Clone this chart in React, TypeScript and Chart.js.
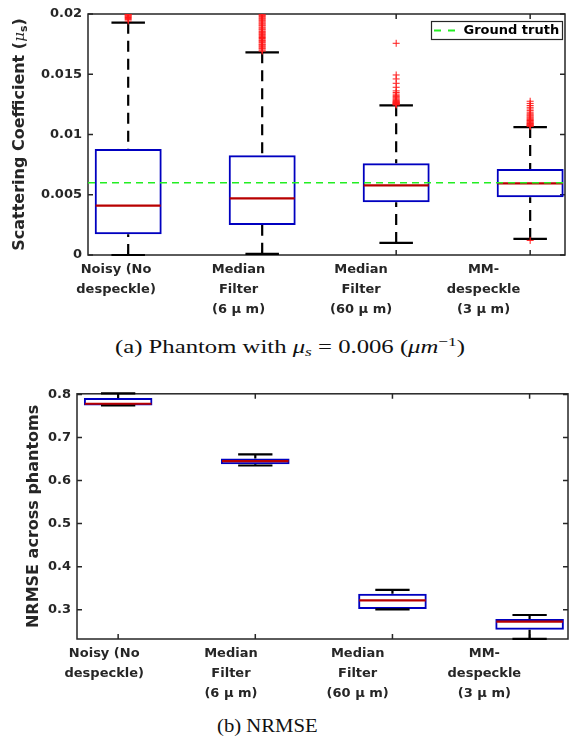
import React, { useEffect, useRef } from "react";
import { Chart, registerables } from "chart.js";

Chart.register(...registerables);

// ---------- shared ----------
const FONT = "'DejaVu Sans', sans-serif";
const AXIS_COLOR = "#262626";
const BOX_BLUE = "#0000c0";
const MEDIAN_RED = "#b80000";
const OUTLIER_RED = "#ff1a1a";
const GT_GREEN = "#22ee22";

const categories = [1, 2, 3, 4];
const categoryLabels = [
  ["Noisy (No", "despeckle)"],
  ["Median", "Filter", "(6 μ m)"],
  ["Median", "Filter", "(60 μ m)"],
  ["MM-", "despeckle", "(3 μ m)"],
];

// ---------- (a) scattering coefficient ----------
const aYTicks = [0, 0.005, 0.01, 0.015, 0.02];
const aYTickLabels = ["0", "0.005", "0.01", "0.015", "0.02"];
const aQ1 = [0.00172, 0.00249, 0.00437, 0.00479];
const aMedian = [0.00409, 0.0047, 0.00578, 0.00595];
const aQ3 = [0.0088, 0.00827, 0.00761, 0.00714];
const aWhiskerLow = [0, 0.0001, 0.001, 0.00133];
const aWhiskerHigh = [0.01928, 0.01682, 0.01242, 0.01062];
const aOutliersNoisy = [0.01942, 0.01955, 0.01963, 0.01971, 0.01978, 0.01985, 0.01991, 0.01996, 0.02];
const aOutliersMedian6 = [
  0.01692, 0.01701, 0.01712, 0.01719, 0.01728, 0.01736, 0.01745, 0.01751, 0.01762, 0.0177,
  0.01779, 0.01786, 0.01797, 0.01805, 0.01812, 0.01823, 0.01831, 0.0184, 0.01848, 0.01856,
  0.01867, 0.01874, 0.01883, 0.01891, 0.01902, 0.01909, 0.01918, 0.01926, 0.01935, 0.01944,
  0.01952, 0.01961, 0.01969, 0.01978, 0.01986, 0.01993, 0.02,
];
const aOutliersMedian60 = [
  0.01245, 0.01249, 0.01252, 0.01256, 0.01259, 0.01263, 0.01267, 0.0127, 0.01275, 0.01281,
  0.01288, 0.01296, 0.01305, 0.01314, 0.01322, 0.01335, 0.01348, 0.01362, 0.01392, 0.01425,
  0.01461, 0.01494, 0.01757,
];
const aOutliersMM = [
  0.01068, 0.01072, 0.01077, 0.01081, 0.01086, 0.01091, 0.01097, 0.01103, 0.0111, 0.01116,
  0.01123, 0.0113, 0.01138, 0.01146, 0.01155, 0.01163, 0.01172, 0.01185, 0.01198, 0.01212,
  0.01226, 0.01241, 0.01258, 0.01276, 0.00121,
];
const groundTruth = 0.006;

// ---------- (b) NRMSE ----------
const bYTicks = [0.3, 0.4, 0.5, 0.6, 0.7, 0.8];
const bYTickLabels = ["0.3", "0.4", "0.5", "0.6", "0.7", "0.8"];
const bQ1 = [0.7745, 0.638, 0.3016, 0.2537];
const bMedian = [0.7784, 0.645, 0.3215, 0.2722];
const bQ3 = [0.7915, 0.651, 0.337, 0.2785];
const bWhiskerLow = [0.7745, 0.635, 0.301, 0.2325];
const bWhiskerHigh = [0.8025, 0.661, 0.3463, 0.2877];

type TitlePart = { text: string; font: string; dy: number };

type Spec = {
  canvasHeight: number;
  padTop: number;
  padRight: number;
  yAxisWidth: number;
  xAxisHeight: number;
  xMin: number;
  xMax: number;
  labelMin: number;
  labelMax: number;
  yMin: number;
  yMax: number;
  yTicks: number[];
  yTickLabels: string[];
  q1: number[];
  med: number[];
  q3: number[];
  wlo: number[];
  whi: number[];
  outliers: number[][] | null;
  groundTruth: number | null;
  title: TitlePart[];
  titleBaselineX: number;
  legend: boolean;
};

const specA: Spec = {
  canvasHeight: 330,
  padTop: 14,
  padRight: 8,
  yAxisWidth: 88,
  xAxisHeight: 75,
  xMin: 0.7,
  xMax: 4.26,
  labelMin: 0.771,
  labelMax: 4.665,
  yMin: 0,
  yMax: 0.02,
  yTicks: aYTicks,
  yTickLabels: aYTickLabels,
  q1: aQ1,
  med: aMedian,
  q3: aQ3,
  wlo: aWhiskerLow,
  whi: aWhiskerHigh,
  outliers: [aOutliersNoisy, aOutliersMedian6, aOutliersMedian60, aOutliersMM],
  groundTruth: groundTruth,
  title: [
    { text: "Scattering Coefficient (", font: `bold 16px ${FONT}`, dy: 0 },
    { text: "μ", font: "italic 15px 'DejaVu Serif', serif", dy: 0 },
    { text: "s", font: `bold 11px ${FONT}`, dy: 3 },
    { text: ")", font: `bold 16px ${FONT}`, dy: 0 },
  ],
  titleBaselineX: 24,
  legend: true,
};

const specB: Spec = {
  canvasHeight: 330,
  padTop: 13,
  padRight: 5,
  yAxisWidth: 77,
  xAxisHeight: 71,
  xMin: 0.7,
  xMax: 4.28,
  labelMin: 0.785,
  labelMax: 4.66,
  yMin: 0.232,
  yMax: 0.8015,
  yTicks: bYTicks,
  yTickLabels: bYTickLabels,
  q1: bQ1,
  med: bMedian,
  q3: bQ3,
  wlo: bWhiskerLow,
  whi: bWhiskerHigh,
  outliers: null,
  groundTruth: null,
  title: [{ text: "NRMSE across phantoms", font: `bold 16px ${FONT}`, dy: 0 }],
  titleBaselineX: 38,
  legend: false,
};

const TICK_LEN = 5;
const BOX_HALF = 0.25;
const CAP_HALF = 0.125;

function makeOverlay(spec: Spec) {
  return {
    id: "boxOverlay",
    beforeDatasetsDraw(chart: any) {
      const { ctx, chartArea: a, scales } = chart;
      const x = scales.x;
      const y = scales.y;
      ctx.save();
      ctx.strokeStyle = AXIS_COLOR;
      ctx.lineWidth = 1.5;
      ctx.setLineDash([]);
      ctx.strokeRect(a.left, a.top, a.right - a.left, a.bottom - a.top);
      ctx.beginPath();
      spec.yTicks.forEach((v) => {
        const py = y.getPixelForValue(v);
        ctx.moveTo(a.left, py);
        ctx.lineTo(a.left + TICK_LEN, py);
        ctx.moveTo(a.right, py);
        ctx.lineTo(a.right - TICK_LEN, py);
      });
      categories.forEach((c) => {
        const px = x.getPixelForValue(c);
        ctx.moveTo(px, a.bottom);
        ctx.lineTo(px, a.bottom - TICK_LEN);
        ctx.moveTo(px, a.top);
        ctx.lineTo(px, a.top + TICK_LEN);
      });
      ctx.stroke();
      ctx.restore();
    },
    afterDatasetDraw(chart: any, args: any) {
      if (chart.data.datasets[args.index].type !== "bar") return;
      const { ctx, scales } = chart;
      const x = scales.x;
      const y = scales.y;
      ctx.save();
      categories.forEach((c, i) => {
        const cx = x.getPixelForValue(c);
        const capL = x.getPixelForValue(c - CAP_HALF);
        const capR = x.getPixelForValue(c + CAP_HALF);
        const yq1 = y.getPixelForValue(spec.q1[i]);
        const yq3 = y.getPixelForValue(spec.q3[i]);
        const ylo = y.getPixelForValue(spec.wlo[i]);
        const yhi = y.getPixelForValue(spec.whi[i]);
        // whiskers (dashed)
        ctx.strokeStyle = "#000";
        ctx.lineWidth = 2.2;
        ctx.setLineDash([11, 7]);
        ctx.beginPath();
        ctx.moveTo(cx, yhi);
        ctx.lineTo(cx, yq3);
        ctx.moveTo(cx, ylo);
        ctx.lineTo(cx, yq1);
        ctx.stroke();
        // caps
        ctx.setLineDash([]);
        ctx.beginPath();
        ctx.moveTo(capL, yhi);
        ctx.lineTo(capR, yhi);
        ctx.moveTo(capL, ylo);
        ctx.lineTo(capR, ylo);
        ctx.stroke();
        // median
        const ym = y.getPixelForValue(spec.med[i]);
        ctx.strokeStyle = MEDIAN_RED;
        ctx.lineWidth = 2.2;
        ctx.beginPath();
        ctx.moveTo(x.getPixelForValue(c - BOX_HALF) + 1, ym);
        ctx.lineTo(x.getPixelForValue(c + BOX_HALF) - 1, ym);
        ctx.stroke();
      });
      ctx.restore();
    },
    afterDraw(chart: any) {
      const { ctx, chartArea: a } = chart;
      // y-axis title
      ctx.save();
      let total = 0;
      const widths = spec.title.map((p) => {
        ctx.font = p.font;
        const w = ctx.measureText(p.text).width;
        total += w;
        return w;
      });
      const cy = (a.top + a.bottom) / 2;
      ctx.translate(spec.titleBaselineX, cy);
      ctx.rotate(-Math.PI / 2);
      ctx.fillStyle = AXIS_COLOR;
      ctx.textBaseline = "alphabetic";
      ctx.textAlign = "left";
      let pos = -total / 2;
      spec.title.forEach((p, i) => {
        ctx.font = p.font;
        ctx.fillText(p.text, pos, p.dy);
        pos += widths[i];
      });
      ctx.restore();

      if (spec.legend) {
        ctx.save();
        const lx = 431.5;
        const ly = 21.5;
        const lw = 131;
        const lh = 18;
        ctx.fillStyle = "#fff";
        ctx.fillRect(lx, ly, lw, lh);
        ctx.strokeStyle = AXIS_COLOR;
        ctx.lineWidth = 1.2;
        ctx.strokeRect(lx, ly, lw, lh);
        ctx.strokeStyle = GT_GREEN;
        ctx.lineWidth = 1.8;
        ctx.setLineDash([7, 7]);
        ctx.beginPath();
        ctx.moveTo(lx + 2.5, ly + lh / 2);
        ctx.lineTo(lx + 24, ly + lh / 2);
        ctx.stroke();
        ctx.setLineDash([]);
        ctx.fillStyle = "#000";
        ctx.font = `bold 13px ${FONT}`;
        ctx.textBaseline = "middle";
        ctx.textAlign = "left";
        ctx.fillText("Ground truth", lx + 32, ly + lh / 2 + 0.5);
        ctx.restore();
      }
    },
  };
}

function buildConfig(spec: Spec): any {
  const datasets: any[] = [];
  if (spec.groundTruth !== null) {
    datasets.push({
      type: "line",
      label: "Ground truth",
      data: [
        { x: spec.xMin, y: spec.groundTruth },
        { x: spec.xMax, y: spec.groundTruth },
      ],
      borderColor: GT_GREEN,
      borderWidth: 1.5,
      borderDash: [7, 5],
      pointRadius: 0,
      order: 0,
    });
  }
  if (spec.outliers) {
    datasets.push({
      type: "scatter",
      label: "Outliers",
      data: spec.outliers.flatMap((arr, i) => arr.map((v) => ({ x: categories[i], y: v }))),
      pointStyle: "cross",
      pointRadius: 3.5,
      borderColor: OUTLIER_RED,
      backgroundColor: OUTLIER_RED,
      borderWidth: 1,
      order: 1,
    });
  }
  datasets.push({
    type: "bar",
    label: "Boxes",
    data: categories.map((c, i) => ({ x: c, y: [spec.q1[i], spec.q3[i]] })),
    backgroundColor: "rgba(0,0,0,0)",
    borderColor: BOX_BLUE,
    borderWidth: 2,
    borderSkipped: false,
    categoryPercentage: 1,
    barPercentage: 0.5,
    order: 2,
  });

  const tickFont = { family: FONT, size: 13, weight: "bold" as const, lineHeight: "20px" };

  return {
    type: "bar",
    data: { datasets },
    options: {
      animation: false,
      responsive: false,
      devicePixelRatio: 1,
      events: [],
      layout: { padding: { top: spec.padTop, right: spec.padRight, left: 0, bottom: 0 } },
      plugins: { legend: { display: false }, tooltip: { enabled: false } },
      scales: {
        x: {
          type: "linear",
          display: false,
          offset: false,
          min: spec.xMin,
          max: spec.xMax,
          afterBuildTicks: (s: any) => {
            s.ticks = categories.map((v) => ({ value: v }));
          },
        },
        x2: {
          type: "linear",
          axis: "x",
          position: "bottom",
          offset: false,
          min: spec.labelMin,
          max: spec.labelMax,
          grid: { display: false, drawTicks: false },
          border: { display: false },
          afterBuildTicks: (s: any) => {
            s.ticks = categories.map((v) => ({ value: v }));
          },
          afterFit: (s: any) => {
            s.height = spec.xAxisHeight;
          },
          ticks: {
            autoSkip: false,
            maxRotation: 0,
            minRotation: 0,
            padding: 5,
            color: AXIS_COLOR,
            font: tickFont,
            callback: (_v: any, i: number) => categoryLabels[i],
          },
        },
        y: {
          type: "linear",
          min: spec.yMin,
          max: spec.yMax,
          grid: { display: false, drawTicks: false },
          border: { display: false },
          afterBuildTicks: (s: any) => {
            s.ticks = spec.yTicks.map((v) => ({ value: v }));
          },
          afterFit: (s: any) => {
            s.width = spec.yAxisWidth;
          },
          ticks: {
            padding: 6,
            color: AXIS_COLOR,
            font: { family: FONT, size: 13, weight: "bold" as const },
            callback: (_v: any, i: number) => spec.yTickLabels[i],
          },
        },
      },
    },
    plugins: [makeOverlay(spec)],
  };
}

function BoxChart({ spec, top }: { spec: Spec; top: number }) {
  const ref = useRef<HTMLCanvasElement>(null);
  useEffect(() => {
    if (!ref.current) return;
    const chart = new Chart(ref.current, buildConfig(spec));
    return () => chart.destroy();
  }, [spec]);
  return (
    <canvas
      ref={ref}
      width={573}
      height={spec.canvasHeight}
      style={{ position: "absolute", left: 0, top, width: 573, height: spec.canvasHeight }}
    />
  );
}

const captionStyle: React.CSSProperties = {
  position: "absolute",
  whiteSpace: "nowrap",
  fontFamily: "'Liberation Serif', 'Times New Roman', serif",
  fontSize: 19,
  lineHeight: "19px",
  color: "#111",
  transformOrigin: "0 50%",
};
const subStyle: React.CSSProperties = { fontSize: "0.7em", verticalAlign: "-0.25em", lineHeight: 0, fontStyle: "italic" };
const supStyle: React.CSSProperties = { fontSize: "0.7em", verticalAlign: "0.55em", lineHeight: 0 };

export default function App() {
  return (
    <div
      style={{
        position: "absolute",
        left: 0,
        top: 0,
        width: 573,
        height: 736,
        overflow: "hidden",
        background: "#fff",
      }}
    >
      <BoxChart spec={specA} top={0} />
      <div style={{ ...captionStyle, left: 115, top: 337, transform: "scaleX(1.3)" }}>
        (a) Phantom with <i>μ</i>
        <span style={subStyle}>s</span> = 0.006 (<i>μm</i>
        <span style={supStyle}>−1</span>)
      </div>
      <BoxChart spec={specB} top={380} />
      <div style={{ ...captionStyle, left: 217, top: 716, transform: "scaleX(1.09)" }}>(b) NRMSE</div>
    </div>
  );
}
